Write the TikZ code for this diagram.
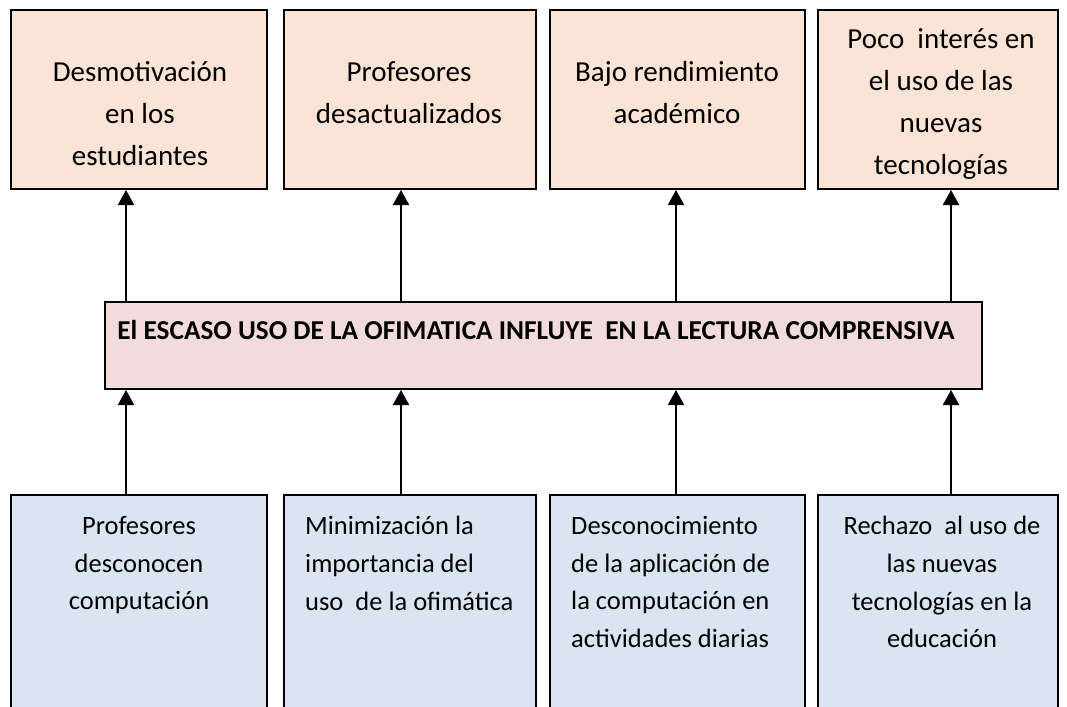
\documentclass[tikz,border=0pt]{standalone}
\usepackage{fontspec}
\setmainfont{Carlito}
\usetikzlibrary{arrows.meta}
\definecolor{peach}{HTML}{FBE4D5}
\definecolor{rose}{HTML}{F2DCDB}
\definecolor{pale}{HTML}{DBE5F1}
\begin{document}
\begin{tikzpicture}[x=1pt,y=-1pt,
  box/.style={draw=black, line width=2pt, inner sep=0pt, anchor=north west},
  effect/.style={box, fill=peach},
  cause/.style={box, fill=pale},
  central/.style={box, fill=rose},
  toptxt/.style={font=\fontsize{29}{42}\selectfont, align=center, anchor=north, inner sep=0pt},
  bottxt/.style={font=\fontsize{26.5}{37.7}\selectfont, anchor=north, inner sep=0pt},
  arr/.style={line width=2pt, -{Triangle[length=15pt,width=16pt]}}]
\useasboundingbox (0,0) rectangle (1067,706);
\begin{scope}
\clip (0,0) rectangle (1067,706);
% effects
\node[effect, minimum width=256pt, minimum height=179pt] (e1) at (10,9) {};
\node[effect, minimum width=252pt, minimum height=179pt] (e2) at (283,9) {};
\node[effect, minimum width=255pt, minimum height=179pt] (e3) at (549,9) {};
\node[effect, minimum width=240pt, minimum height=179pt] (e4) at (817,9) {};
% central problem
\node[central, minimum width=877pt, minimum height=87pt] (m) at (104,301) {};
% causes
\node[cause, minimum width=256pt, minimum height=240pt] (c1) at (10,494) {};
\node[cause, minimum width=252pt, minimum height=240pt] (c2) at (283,494) {};
\node[cause, minimum width=255pt, minimum height=240pt] (c3) at (549,494) {};
\node[cause, minimum width=240pt, minimum height=240pt] (c4) at (817,494) {};
\end{scope}
% texts
\node[toptxt] (te1) at (140,61) {Desmotivación\\en los\\estudiantes};
\node[toptxt] (te2) at (409,61) {Profesores\\desactualizados};
\node[toptxt] (te3) at (677,61) {Bajo rendimiento\\académico};
\node[toptxt] (te4) at (941,28) {Poco~ interés en\\el uso de las\\nuevas\\tecnologías};
\node[font=\fontsize{27.3}{32}\bfseries\selectfont, anchor=center, inner sep=0pt] (tm) at (536,330)
  {El ESCASO USO DE LA OFIMATICA INFLUYE~ EN LA LECTURA COMPRENSIVA};
\node[bottxt, align=center] (tc1) at (139,516) {Profesores\\desconocen\\computación};
\node[bottxt, align=left, anchor=north west] (tc2) at (305,516) {Minimización la\\importancia del\\uso~ de la ofimática};
\node[bottxt, align=left, anchor=north west] (tc3) at (571,516) {Desconocimiento\\de la aplicación de\\la computación en\\actividades diarias};
\node[bottxt, align=center] (tc4) at (942,516) {Rechazo~ al uso de\\las nuevas\\tecnologías en la\\educación};
% arrow columns
\coordinate (a1) at (126,0);
\coordinate (a2) at (401,0);
\coordinate (a3) at (676,0);
\coordinate (a4) at (951,0);
\draw[arr] (a1 |- m.north) -- (a1 |- e1.south);
\draw[arr] (a2 |- m.north) -- (a2 |- e2.south);
\draw[arr] (a3 |- m.north) -- (a3 |- e3.south);
\draw[arr] (a4 |- m.north) -- (a4 |- e4.south);
\draw[arr] (a1 |- c1.north) -- (a1 |- m.south);
\draw[arr] (a2 |- c2.north) -- (a2 |- m.south);
\draw[arr] (a3 |- c3.north) -- (a3 |- m.south);
\draw[arr] (a4 |- c4.north) -- (a4 |- m.south);
\end{tikzpicture}
\end{document}
